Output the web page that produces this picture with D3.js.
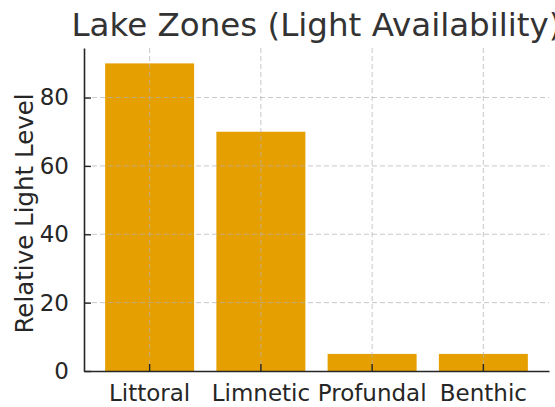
<!DOCTYPE html>
<html>
<head>
<meta charset="utf-8">
<script src="https://cdn.jsdelivr.net/npm/d3@7"></script>
<style>
  body { margin: 0; background: #fff; }
  text { font-family: "DejaVu Sans", sans-serif; fill: #262626; }
</style>
</head>
<body>
<script>
var zones = ["Littoral", "Limnetic", "Profundal", "Benthic"];
var lightLevels = [90, 70, 5, 5];
var yTicks = [0, 20, 40, 60, 80];

var width = 555,
    height = 407;

var margin = {top: 48, right: 6, bottom: 36, left: 84};

var svg = d3.select("body").append("svg")
    .attr("width", width)
    .attr("height", height);

var x = d3.scaleBand()
    .domain(zones)
    .range([margin.left, width - margin.right])
    .paddingInner(0.2)
    .paddingOuter(0.19);

var y = d3.scaleLinear()
    .domain([0, 94.5])
    .range([height - margin.bottom, margin.top]);

// bars
svg.selectAll(".bar")
    .data(zones)
    .enter().append("rect")
    .attr("class", "bar")
    .attr("x", function(d) { return x(d); })
    .attr("width", x.bandwidth())
    .attr("y", function(d, i) { return y(lightLevels[i]); })
    .attr("height", function(d, i) { return y(0) - y(lightLevels[i]); })
    .style("fill", "#E69F00");

// grid (drawn over the bars, faint)
var grid = svg.append("g").attr("class", "grid")
    .style("stroke", "#b0b0b0")
    .style("stroke-opacity", 0.7)
    .style("stroke-width", 1)
    .style("stroke-dasharray", "5,3");

grid.selectAll(".hgrid")
    .data(yTicks.slice(1))
    .enter().append("line")
    .attr("x1", margin.left)
    .attr("x2", width - margin.right)
    .attr("y1", function(d) { return y(d); })
    .attr("y2", function(d) { return y(d); });

grid.selectAll(".vgrid")
    .data(zones)
    .enter().append("line")
    .attr("x1", function(d) { return x(d) + x.bandwidth() / 2; })
    .attr("x2", function(d) { return x(d) + x.bandwidth() / 2; })
    .attr("y1", margin.top)
    .attr("y2", height - margin.bottom);

// axes, ticks pointing inward
var xAxis = svg.append("g")
    .attr("transform", "translate(0," + (height - margin.bottom) + ")")
    .call(d3.axisBottom(x).tickSizeInner(-7).tickSizeOuter(0).tickPadding(14));

var yAxis = svg.append("g")
    .attr("transform", "translate(" + margin.left + ",0)")
    .call(d3.axisLeft(y).tickValues(yTicks).tickSizeInner(-7).tickSizeOuter(0).tickPadding(15));

[xAxis, yAxis].forEach(function(ax) {
  ax.select(".domain").style("stroke", "#262626").style("stroke-width", 1.6);
  ax.selectAll(".tick line").style("stroke", "#262626").style("stroke-width", 1.4);
  ax.selectAll(".tick text")
    .style("font-family", "DejaVu Sans, sans-serif")
    .style("font-size", "23px")
    .style("fill", "#262626");
});

// y label
svg.append("text")
    .attr("transform", "translate(33," + ((margin.top + height - margin.bottom) / 2 + 4) + ") rotate(-90)")
    .attr("text-anchor", "middle")
    .style("font-size", "24.5px")
    .text("Relative Light Level");

// title
svg.append("text")
    .attr("x", (margin.left + width - margin.right) / 2)
    .attr("y", 36)
    .attr("text-anchor", "middle")
    .style("font-size", "32.5px")
    .style("fill", "#333")
    .text("Lake Zones (Light Availability)");
</script>
</body>
</html>
